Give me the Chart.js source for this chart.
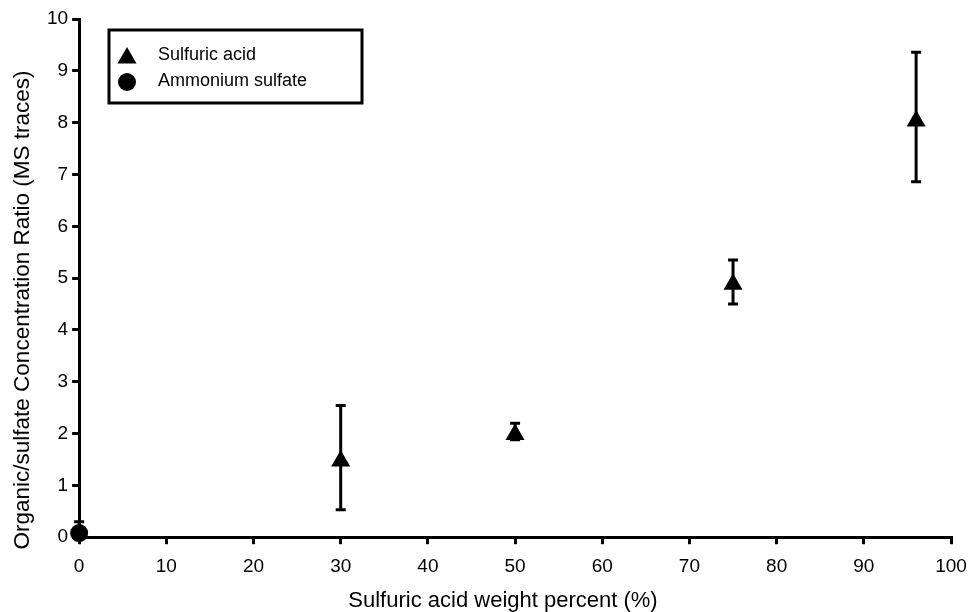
<!DOCTYPE html>
<html>
<head>
<meta charset="utf-8">
<script src="https://cdn.jsdelivr.net/npm/chart.js@4.4.1/dist/chart.umd.min.js"></script>
<style>
  html, body { margin: 0; padding: 0; background: #fff; }
  #wrap { width: 971px; height: 612px; }
</style>
</head>
<body>
<div id="wrap"><canvas id="grafico" width="971" height="612"></canvas></div>
<script>
// valores
const acidoX = [30, 50, 75, 96];
const acidoY = [1.47, 1.98, 4.88, 8.03];
const acidoErroMais = [1.07, 0.22, 0.47, 1.33];
const acidoErroMenos = [0.94, 0.1, 0.38, 1.17];

const amonioX = [0];
const amonioY = [0.08];
const amonioErroMais = [0.22];
const amonioErroMenos = [0.08];

const xTicks = [0, 10, 20, 30, 40, 50, 60, 70, 80, 90, 100];
const yTicks = [0, 1, 2, 3, 4, 5, 6, 7, 8, 9, 10];

const tituloX = 'Sulfuric acid weight percent (%)';
const tituloY = 'Organic/sulfate Concentration Ratio (MS traces)';

const fonte = 'Liberation Sans, Arial, sans-serif';

function toPoints(xs, ys, mais, menos) {
  return xs.map((x, i) => ({ x, y: ys[i], up: mais[i], down: menos[i] }));
}

// barras de erro desenhadas com as escalas do próprio gráfico
const errorBars = {
  id: 'errorBars',
  afterDatasetsDraw(chart) {
    const ctx = chart.ctx;
    const xs = chart.scales.x, ys = chart.scales.y;
    ctx.save();
    ctx.beginPath();
    ctx.rect(0, 0, chart.width, chart.chartArea.bottom);
    ctx.clip();
    ctx.strokeStyle = '#000';
    ctx.lineWidth = 3;
    chart.data.datasets.forEach(ds => {
      ds.data.forEach(p => {
        const px = xs.getPixelForValue(p.x);
        const top = ys.getPixelForValue(p.y + p.up);
        const bot = ys.getPixelForValue(p.y - p.down);
        ctx.beginPath();
        ctx.moveTo(px, top);
        ctx.lineTo(px, bot);
        ctx.moveTo(px - 5, top);
        ctx.lineTo(px + 5, top);
        ctx.moveTo(px - 5, bot);
        ctx.lineTo(px + 5, bot);
        ctx.stroke();
      });
    });
    ctx.restore();
  }
};

// títulos dos eixos (no original não ficam bem no centro dos eixos)
const axisTitles = {
  id: 'axisTitles',
  afterDraw(chart) {
    const ctx = chart.ctx;
    ctx.save();
    ctx.fillStyle = '#000';
    ctx.textAlign = 'center';
    ctx.textBaseline = 'middle';
    ctx.font = '22px ' + fonte;
    ctx.fillText(tituloX, 503, 601);
    ctx.translate(23, 310);
    ctx.rotate(-Math.PI / 2);
    ctx.font = '22.5px ' + fonte;
    ctx.fillText(tituloY, 0, 0);
    ctx.restore();
  }
};

// legenda com moldura dentro da área do gráfico
const legendBox = {
  id: 'legendBox',
  afterDraw(chart) {
    const ctx = chart.ctx;
    const left = 109, top = 30, w = 253, h = 73;
    ctx.save();
    ctx.strokeStyle = '#000';
    ctx.lineWidth = 3;
    ctx.strokeRect(left, top, w, h);
    ctx.fillStyle = '#000';
    ctx.font = '18px ' + fonte;
    ctx.textBaseline = 'middle';
    chart.data.datasets.forEach((ds, i) => {
      const cy = top + 25 + i * 26;
      Chart.helpers.drawPoint(ctx, {
        pointStyle: ds.pointStyle, radius: ds.pointRadius, borderWidth: 0
      }, left + 18, ds.pointStyle === 'triangle' ? cy + 3 : cy + 1);
      ctx.fillText(ds.label, left + 49, cy);
    });
    ctx.restore();
  }
};

const ctx = document.getElementById('grafico').getContext('2d');
window.myChart = new Chart(ctx, {
  type: 'scatter',
  data: {
    datasets: [
      {
        label: 'Sulfuric acid',
        data: toPoints(acidoX, acidoY, acidoErroMais, acidoErroMenos),
        pointStyle: 'triangle',
        pointRadius: 11,
        backgroundColor: '#000',
        borderColor: '#000',
        borderWidth: 0,
        clip: false
      },
      {
        label: 'Ammonium sulfate',
        data: toPoints(amonioX, amonioY, amonioErroMais, amonioErroMenos),
        pointStyle: 'circle',
        pointRadius: 9,
        backgroundColor: '#000',
        borderColor: '#000',
        borderWidth: 0,
        clip: false
      }
    ]
  },
  options: {
    responsive: false,
    animation: false,
    layout: { padding: { left: 43, right: 6, top: 19, bottom: 23 } },
    plugins: {
      legend: { display: false },
      tooltip: { enabled: false }
    },
    scales: {
      x: {
        type: 'linear',
        min: 0,
        max: 100,
        afterBuildTicks: axis => { axis.ticks = xTicks.map(v => ({ value: v })); },
        // o rótulo "100" fica quase na borda no original
        afterFit: axis => { axis.paddingRight = 20; },
        border: { color: '#000', width: 3 },
        grid: { drawOnChartArea: false, color: '#000', lineWidth: 3, tickLength: 7 },
        ticks: { color: '#000', font: { family: fonte, size: 19 }, padding: 11, maxRotation: 0 },
        title: { display: false }
      },
      y: {
        type: 'linear',
        min: 0,
        max: 10,
        afterBuildTicks: axis => { axis.ticks = yTicks.map(v => ({ value: v })); },
        border: { color: '#000', width: 3 },
        grid: { drawOnChartArea: false, color: '#000', lineWidth: 3, tickLength: 7 },
        ticks: { color: '#000', font: { family: fonte, size: 19 }, padding: 4 },
        title: { display: false }
      }
    }
  },
  plugins: [errorBars, legendBox, axisTitles]
});
</script>
</body>
</html>
